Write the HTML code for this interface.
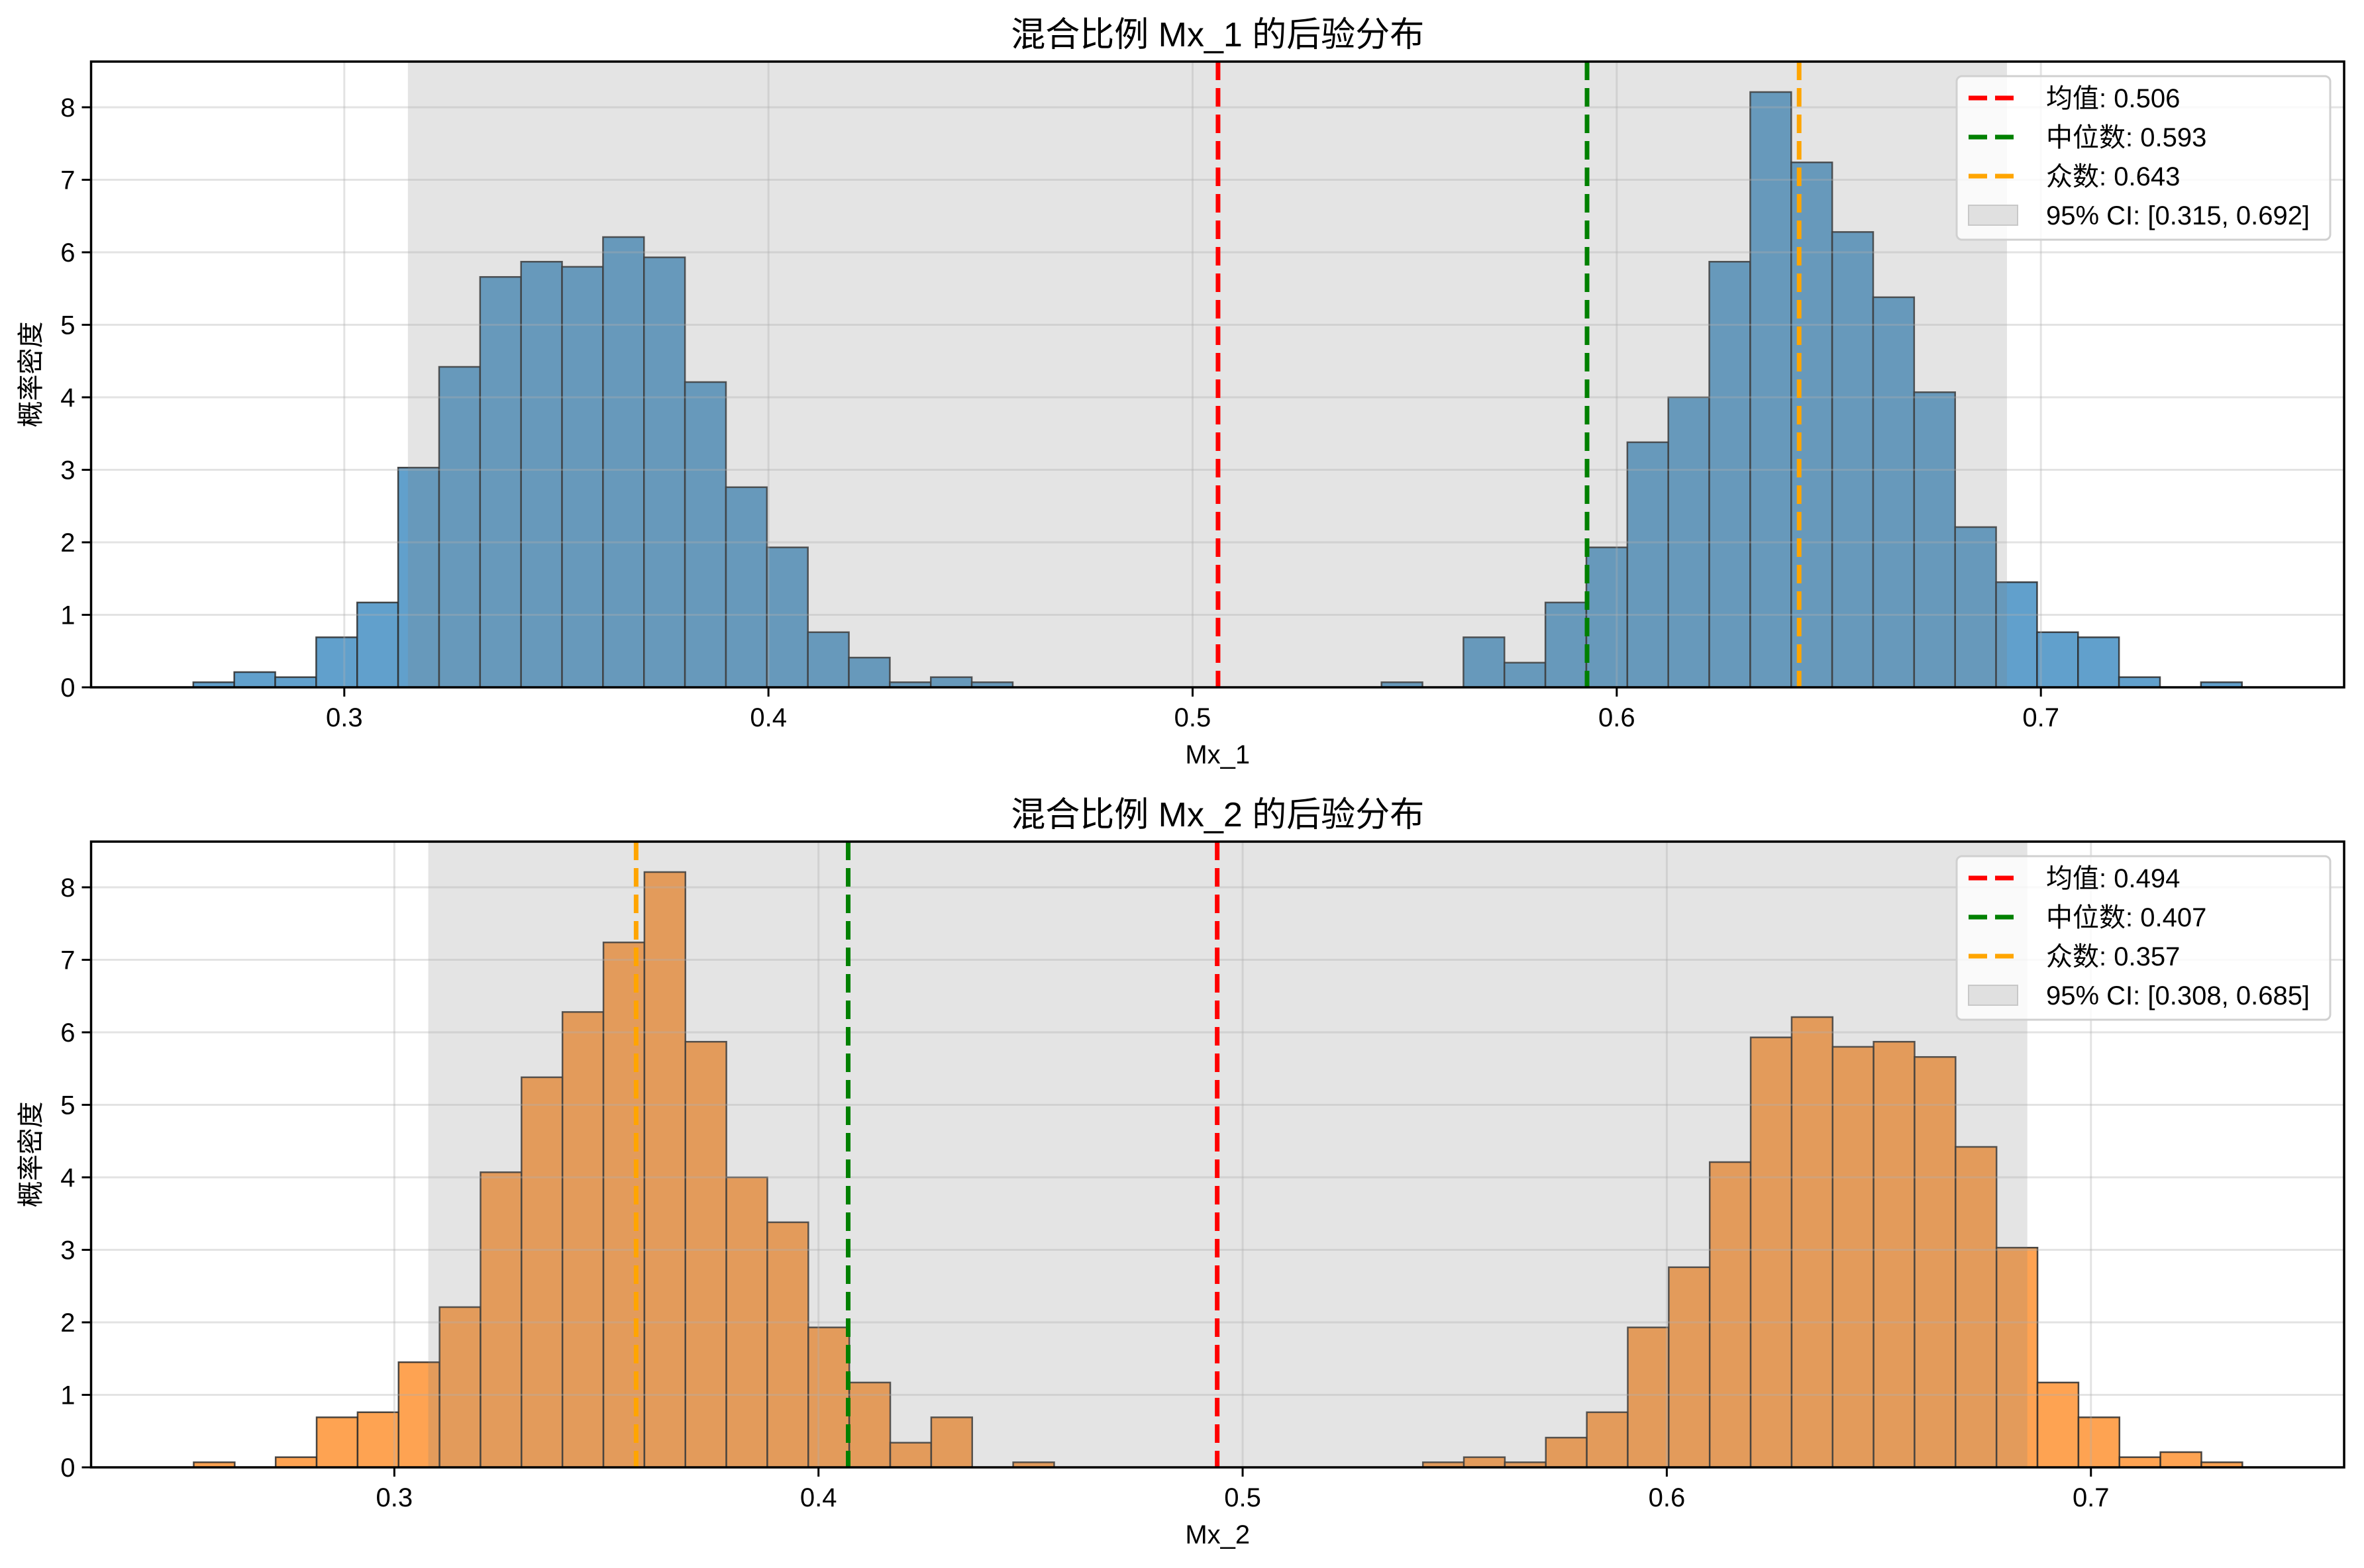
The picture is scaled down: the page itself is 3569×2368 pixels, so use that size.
<!DOCTYPE html>
<html><head><meta charset="utf-8"><style>
body{margin:0;background:#fff}
svg{display:block;font-family:"Liberation Sans","Noto Sans CJK SC",sans-serif}
</style></head><body>
<svg id="fig" width="3569" height="2368" viewBox="0 0 3569 2368" xmlns="http://www.w3.org/2000/svg"></svg>
<script>
// ---- data ----
const binWidth = 0.00966;
const top_binStart = 0.2644;
const top_heights = [0.07,0.21,0.14,0.69,1.17,3.03,4.42,5.66,5.87,5.80,6.21,5.93,4.21,2.76,1.93,0.76,0.41,0.07,0.14,0.07,0,0,0,0,0,0,0,0,0,0.07,0,0.69,0.34,1.17,1.93,3.38,4.00,5.87,8.21,7.24,6.28,5.38,4.07,2.21,1.45,0.76,0.69,0.14,0,0.07];
const top_stats = [0.506, 0.593, 0.643];
const top_ci = [0.315, 0.692];
const bot_binStart = 0.2527;
const bot_heights = [0.07,0,0.14,0.69,0.76,1.45,2.21,4.07,5.38,6.28,7.24,8.21,5.87,4.00,3.38,1.93,1.17,0.34,0.69,0,0.07,0,0,0,0,0,0,0,0,0,0.07,0.14,0.07,0.41,0.76,1.93,2.76,4.21,5.93,6.21,5.80,5.87,5.66,4.42,3.03,1.17,0.69,0.14,0.21,0.07];
const bot_stats = [0.494, 0.407, 0.357];
const bot_ci = [0.308, 0.685];
const xTicks = [0.3, 0.4, 0.5, 0.6, 0.7];
const yTicks = [0,1,2,3,4,5,6,7,8];
const statNames = ["均值", "中位数", "众数"];
const statColors = ["#ff0000", "#008000", "#ffa500"];

const NS = "http://www.w3.org/2000/svg";
const svg = document.getElementById('fig');
function mk(tag, attrs, parent){const e=document.createElementNS(NS,tag);for(const k in attrs)e.setAttribute(k,attrs[k]);(parent||svg).appendChild(e);return e;}

function panel(cfg){
  const L=137.5,R=3539,T=cfg.top,B=cfg.top+945;
  const xs=v=>L+(v-cfg.xmin)*6403.5;
  const ys=v=>B-v*109.5;
  const g=mk('g',{});
  
  
  const clip=mk('clipPath',{id:'c'+cfg.key},g);mk('rect',{x:L,y:T,width:R-L,height:B-T},clip);
  const inner=mk('g',{'clip-path':'url(#c'+cfg.key+')'},g);
  // bars
  cfg.heights.forEach((h,i)=>{
    if(h<=0) return;
    const x0=xs(cfg.start+i*binWidth), x1=xs(cfg.start+(i+1)*binWidth);
    const r=mk('rect',{x:x0,y:ys(h),width:x1-x0,height:B-ys(h),fill:cfg.color,stroke:'#2b2b2b','stroke-width':2.5,'stroke-opacity':0.85},inner);
    
    
  });
  // CI span
  const ci=mk('rect',{x:xs(cfg.ci[0]),y:T,width:xs(cfg.ci[1])-xs(cfg.ci[0]),height:B-T,fill:'#808080','fill-opacity':0.21},inner);
  
  
  // grid
  xTicks.forEach(t=>mk('line',{x1:xs(t),x2:xs(t),y1:T,y2:B,stroke:'#b0b0b0','stroke-opacity':0.35,'stroke-width':3},inner));
  yTicks.forEach(t=>mk('line',{x1:L,x2:R,y1:ys(t),y2:ys(t),stroke:'#b0b0b0','stroke-opacity':0.35,'stroke-width':3},inner));
  // stat lines
  cfg.stats.forEach((s,i)=>{
    const l=mk('line',{x1:xs(s),x2:xs(s),y1:T,y2:B,stroke:statColors[i],'stroke-width':7,'stroke-dasharray':'28,12'},inner);
    
    
  });
  // frame
  mk('rect',{x:L,y:T,width:R-L,height:B-T,fill:'none',stroke:'#000','stroke-width':3.5},g);
  // ticks
  xTicks.forEach(t=>{
    mk('line',{x1:xs(t),x2:xs(t),y1:B,y2:B+14,stroke:'#000','stroke-width':3},g);
    const tx=mk('text',{x:xs(t),y:B+59,'font-size':40,'text-anchor':'middle'},g);tx.textContent=t.toFixed(1);
    
    
  });
  yTicks.forEach(t=>{
    mk('line',{x1:L-14,x2:L,y1:ys(t),y2:ys(t),stroke:'#000','stroke-width':3},g);
    const tx=mk('text',{x:L-24,y:ys(t)+14,'font-size':40,'text-anchor':'end'},g);tx.textContent=t;
    
    
  });
  const tt=mk('text',{x:(L+R)/2,y:T-23,'font-size':52,'text-anchor':'middle'},g);tt.textContent='混合比例 '+cfg.var+' 的后验分布';
  
  
  const xl=mk('text',{x:(L+R)/2,y:B+115,'font-size':40,'text-anchor':'middle'},g);xl.textContent=cfg.var;
  
  
  const yl=mk('text',{x:0,y:0,'font-size':40,'text-anchor':'middle',transform:'translate(60,'+((T+B)/2)+') rotate(-90)'},g);yl.textContent='概率密度';
  
  
  // legend
  const lg=mk('g',{},g);
  
  
  const lt=T+22;
  mk('rect',{x:2954,y:lt,width:564,height:247,rx:8,fill:'#fff','fill-opacity':0.8,stroke:'#d0d0d0','stroke-width':3},lg);
  cfg.stats.forEach((s,i)=>{
    const y=lt+33+i*59;
    mk('line',{x1:2972,x2:3046,y1:y,y2:y,stroke:statColors[i],'stroke-width':7,'stroke-dasharray':'28,12'},lg);
    const tx=mk('text',{x:3089,y:y+14,'font-size':40},lg);tx.textContent=statNames[i]+': '+s.toFixed(3);
    
    
  });
  const y4=lt+33+3*59;
  mk('rect',{x:2972,y:y4-15,width:74,height:30,fill:'#e0e0e0',stroke:'#c8c8c8','stroke-width':2},lg);
  const tx=mk('text',{x:3089,y:y4+14,'font-size':40},lg);tx.textContent='95% CI: ['+cfg.ci[0].toFixed(3)+', '+cfg.ci[1].toFixed(3)+']';
  
  
}
panel({key:'a',name:'mx1-panel',top:93,xmin:0.2403,start:top_binStart,heights:top_heights,stats:top_stats,ci:top_ci,color:'#61a0cc',var:'Mx_1'});
panel({key:'b',name:'mx2-panel',top:1271,xmin:0.2285,start:bot_binStart,heights:bot_heights,stats:bot_stats,ci:bot_ci,color:'#fea352',var:'Mx_2'});
</script>
</body></html>
